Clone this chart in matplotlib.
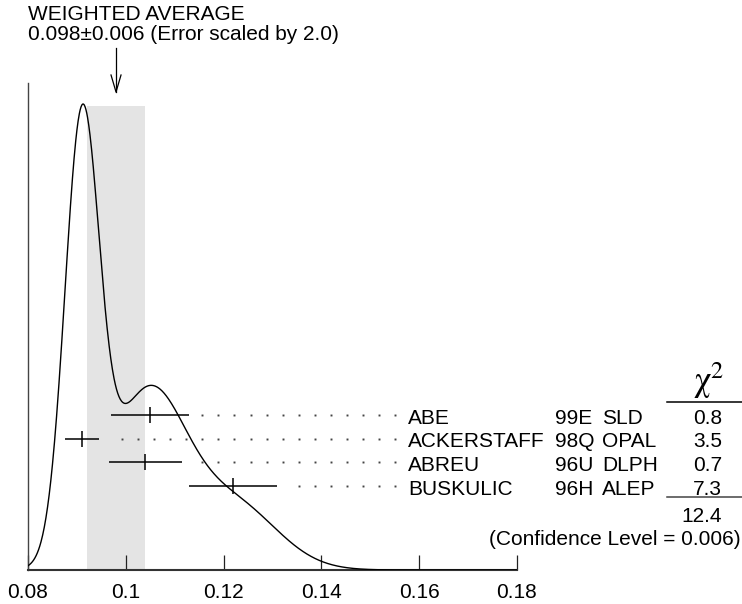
import numpy as np
import matplotlib
matplotlib.use("Agg")
import matplotlib.pyplot as plt

plt.rcParams['font.family'] = ['Liberation Sans', 'DejaVu Sans']
plt.rcParams['mathtext.fontset'] = 'stix'

# ---- data ----
names = ["ABE", "ACKERSTAFF", "ABREU", "BUSKULIC"]
refs = ["99E", "98Q", "96U", "96H"]
exps = ["SLD", "OPAL", "DLPH", "ALEP"]
values = [0.105, 0.091, 0.104, 0.122]
errors = [0.008, 0.0035, 0.0075, 0.009]
chi2 = ["0.8", "3.5", "0.7", "7.3"]
chi2_total = "12.4"
conf_level = "0.006"
avg = 0.098
avg_err = 0.006
err_scale = "2.0"
xticks = [0.08, 0.10, 0.12, 0.14, 0.16, 0.18]
xticklabels = ["0.08", "0.1", "0.12", "0.14", "0.16", "0.18"]

W, H = 742, 604
FS = 15
fig = plt.figure(figsize=(W / 100, H / 100), dpi=100)

# main axes (pixel layout)
L, R, B, T = 28, 517, 570, 83
ax = fig.add_axes([L / W, 1 - B / H, (R - L) / W, (B - T) / H])
ax.set_xlim(0.08, 0.18)

xs = np.linspace(0.08, 0.18, 1200)
ideo = np.zeros_like(xs)
for v, e in zip(values, errors):
    ideo += np.exp(-0.5 * ((xs - v) / e) ** 2) / e ** 2
ymax = ideo.max() / ((B - 104) / (B - T))
ax.set_ylim(0, ymax)
ax.plot(xs, ideo, color='black', lw=1.0, zorder=3)
ax.axvspan(avg - avg_err, avg + avg_err, ymin=0, ymax=(B - 106) / (B - T),
           color='#e4e4e4', lw=0, zorder=0)

ax.set_xticks(xticks)
ax.set_xticklabels(xticklabels)
ax.set_yticks([])
ax.tick_params(axis='x', direction='in', length=10.8, width=0.9, color='#222222',
               pad=9.5, labelsize=FS)
for s in ['top', 'right']:
    ax.spines[s].set_visible(False)
ax.spines['bottom'].set_linewidth(1.5)
ax.spines['bottom'].set_color('#333333')
ax.spines['left'].set_linewidth(1.0)
ax.spines['left'].set_color('#444444')
ax.patch.set_alpha(0)

# overlay in pixel coords (origin top-left)
ov = fig.add_axes([0, 0, 1, 1], zorder=5)
ov.set_xlim(0, W)
ov.set_ylim(H, 0)
ov.axis('off')
ov.patch.set_alpha(0)

fig.canvas.draw()

def xpx(x):
    return ax.transData.transform((x, 0))[0]

# error bars
row_y0, row_dy = 415, 23.7
grid_x0, grid_dx, grid_end = 121.7, 16.1, 400
for i, (v, e) in enumerate(zip(values, errors)):
    y = row_y0 + i * row_dy
    x1, xc, x2 = xpx(v - e), xpx(v), xpx(v + e)
    ov.plot([x1, x2], [y, y], color='black', lw=1.1, solid_capstyle='butt')
    ov.plot([xc, xc], [y - 8, y + 8], color='black', lw=1.1, solid_capstyle='butt')
    dots = [grid_x0 + k * grid_dx for k in range(-5, 40)]
    dots = [d for d in dots if d > x2 + 8 and d <= grid_end]
    ov.plot(dots, [y] * len(dots), ls='none', marker='s', ms=1.4, mew=0,
            color='#444444')
    yb = y + 8.5
    ov.text(408, yb, names[i], fontsize=FS, va='baseline', ha='left')
    ov.text(555, yb, refs[i], fontsize=FS, va='baseline', ha='left')
    ov.text(602, yb, exps[i], fontsize=FS, va='baseline', ha='left')
    ov.text(722, yb, chi2[i], fontsize=FS, va='baseline', ha='right')

# chi2 header
ov.text(693, 391, r"$\mathrm{\chi}^{2}$", fontsize=25, ha='left', va='baseline')
ov.plot([667, 742], [401.5, 401.5], color='black', lw=1.1)
ov.plot([667, 742], [497, 497], color='#444444', lw=1.1)
ov.text(722, 522, chi2_total, fontsize=FS, va='baseline', ha='right')
ov.text(741, 545, f"(Confidence Level = {conf_level})", fontsize=FS, va='baseline', ha='right')

# title
ov.text(28, 19.5, "WEIGHTED AVERAGE", fontsize=FS, va='baseline', ha='left')
ov.text(28, 40, f"{avg:.3f}±{avg_err:.3f} (Error scaled by {err_scale})", fontsize=FS,
        va='baseline', ha='left')

# arrow
xa = xpx(avg)
ov.plot([xa, xa], [48, 92], color='black', lw=0.9)
ov.plot([xa - 5, xa, xa + 5], [75, 92, 75], color='black', lw=0.9)

fig.savefig("out.png", dpi=100)
